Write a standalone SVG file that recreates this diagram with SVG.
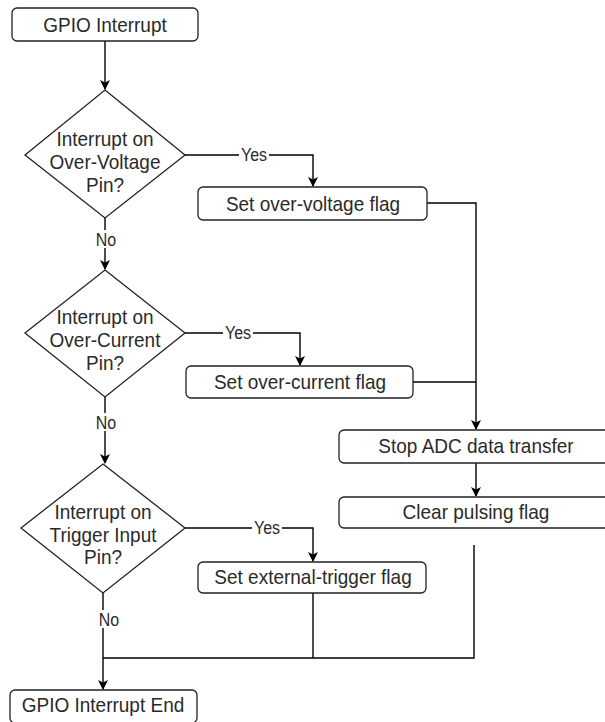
<svg xmlns="http://www.w3.org/2000/svg" width="605" height="722" viewBox="0 0 605 722">
<defs>
<marker id="arr" viewBox="0 0 10 10" refX="9" refY="5" markerWidth="10" markerHeight="10" markerUnits="userSpaceOnUse" orient="auto">
<path d="M0,0 L10,5 L0,10 L2.5,5 Z" fill="#000"/>
</marker>
<style>
.box{fill:#fff;stroke:#222;stroke-width:1.3}
.t{font-family:"Liberation Sans",Arial,sans-serif;font-size:19px;fill:#2a2a2a;text-anchor:middle}
.lbl{font-family:"Liberation Sans",Arial,sans-serif;font-size:16px;fill:#2a2a2a;text-anchor:middle}
.ln{fill:none;stroke:#000;stroke-width:1.4}
.bg{fill:#fff}
</style>
</defs>
<rect width="605" height="722" fill="#fff"/>
<g id="connectors">
<path class="ln" d="M105,41 V89" marker-end="url(#arr)"/>
<path class="ln" d="M185,155 H313 V186" marker-end="url(#arr)"/>
<path class="ln" d="M105,218 V269" marker-end="url(#arr)"/>
<path class="ln" d="M185,333 H300 V365" marker-end="url(#arr)"/>
<path class="ln" d="M105,397 V463" marker-end="url(#arr)"/>
<path class="ln" d="M185,528 H313 V561" marker-end="url(#arr)"/>
<path class="ln" d="M103,593 V689" marker-end="url(#arr)"/>
<path class="ln" d="M427,203 H476 V429" marker-end="url(#arr)"/>
<path class="ln" d="M413,382 H476"/>
<path class="ln" d="M476,463 V496" marker-end="url(#arr)"/>
<path class="ln" d="M474,545 V658 H103"/>
<path class="ln" d="M313,593 V658"/>
<rect class="bg" x="239" y="146" width="30" height="16"/>
<text class="lbl" transform="translate(254,161) scale(1,1.1)">Yes</text>
<rect class="bg" x="223" y="324" width="30" height="16"/>
<text class="lbl" transform="translate(238,339) scale(1,1.1)">Yes</text>
<rect class="bg" x="252" y="519" width="30" height="16"/>
<text class="lbl" transform="translate(267,534) scale(1,1.1)">Yes</text>
<rect class="bg" x="94" y="230" width="24" height="18"/>
<text class="lbl" transform="translate(106,246) scale(1,1.1)">No</text>
<rect class="bg" x="94" y="413" width="24" height="18"/>
<text class="lbl" transform="translate(106,429) scale(1,1.1)">No</text>
<rect class="bg" x="97" y="610" width="24" height="18"/>
<text class="lbl" transform="translate(109,626) scale(1,1.1)">No</text>
</g>
<g id="start">
<rect class="box" x="12" y="8" width="186" height="33" rx="5"/>
<text class="t" transform="translate(105,32) scale(1,1.1)">GPIO Interrupt</text>
</g>
<g id="dec1">
<polygon class="box" points="105,90 185,155 105,218 25,155"/>
<text class="t" transform="translate(105,146) scale(1,1.1)">Interrupt on</text>
<text class="t" transform="translate(105,169) scale(1,1.1)">Over-Voltage</text>
<text class="t" transform="translate(105,192) scale(1,1.1)">Pin?</text>
</g>
<g id="ov">
<rect class="box" x="198" y="187" width="229" height="33" rx="5"/>
<text class="t" transform="translate(313,211) scale(1,1.1)">Set over-voltage flag</text>
</g>
<g id="dec2">
<polygon class="box" points="105,270 185,333 105,397 25,333"/>
<text class="t" transform="translate(105,324) scale(1,1.1)">Interrupt on</text>
<text class="t" transform="translate(105,347) scale(1,1.1)">Over-Current</text>
<text class="t" transform="translate(105,370) scale(1,1.1)">Pin?</text>
</g>
<g id="oc">
<rect class="box" x="186" y="366" width="227" height="32" rx="5"/>
<text class="t" transform="translate(300,389) scale(1,1.1)">Set over-current flag</text>
</g>
<g id="stop">
<rect class="box" x="339" y="430" width="274" height="33" rx="5"/>
<text class="t" transform="translate(476,453) scale(1,1.1)">Stop ADC data transfer</text>
</g>
<g id="clear">
<rect class="box" x="339" y="497" width="274" height="31" rx="5"/>
<text class="t" transform="translate(476,519) scale(1,1.1)">Clear pulsing flag</text>
</g>
<g id="dec3">
<polygon class="box" points="103,464 185,528 103,593 21,528"/>
<text class="t" transform="translate(103,519) scale(1,1.1)">Interrupt on</text>
<text class="t" transform="translate(103,542) scale(1,1.1)">Trigger Input</text>
<text class="t" transform="translate(103,564) scale(1,1.1)">Pin?</text>
</g>
<g id="ext">
<rect class="box" x="198" y="562" width="228" height="31" rx="5"/>
<text class="t" transform="translate(313,584) scale(1,1.1)">Set external-trigger flag</text>
</g>
<g id="end">
<rect class="box" x="10" y="690" width="187" height="33" rx="5"/>
<text class="t" transform="translate(103,712) scale(1,1.1)">GPIO Interrupt End</text>
</g>
</svg>
